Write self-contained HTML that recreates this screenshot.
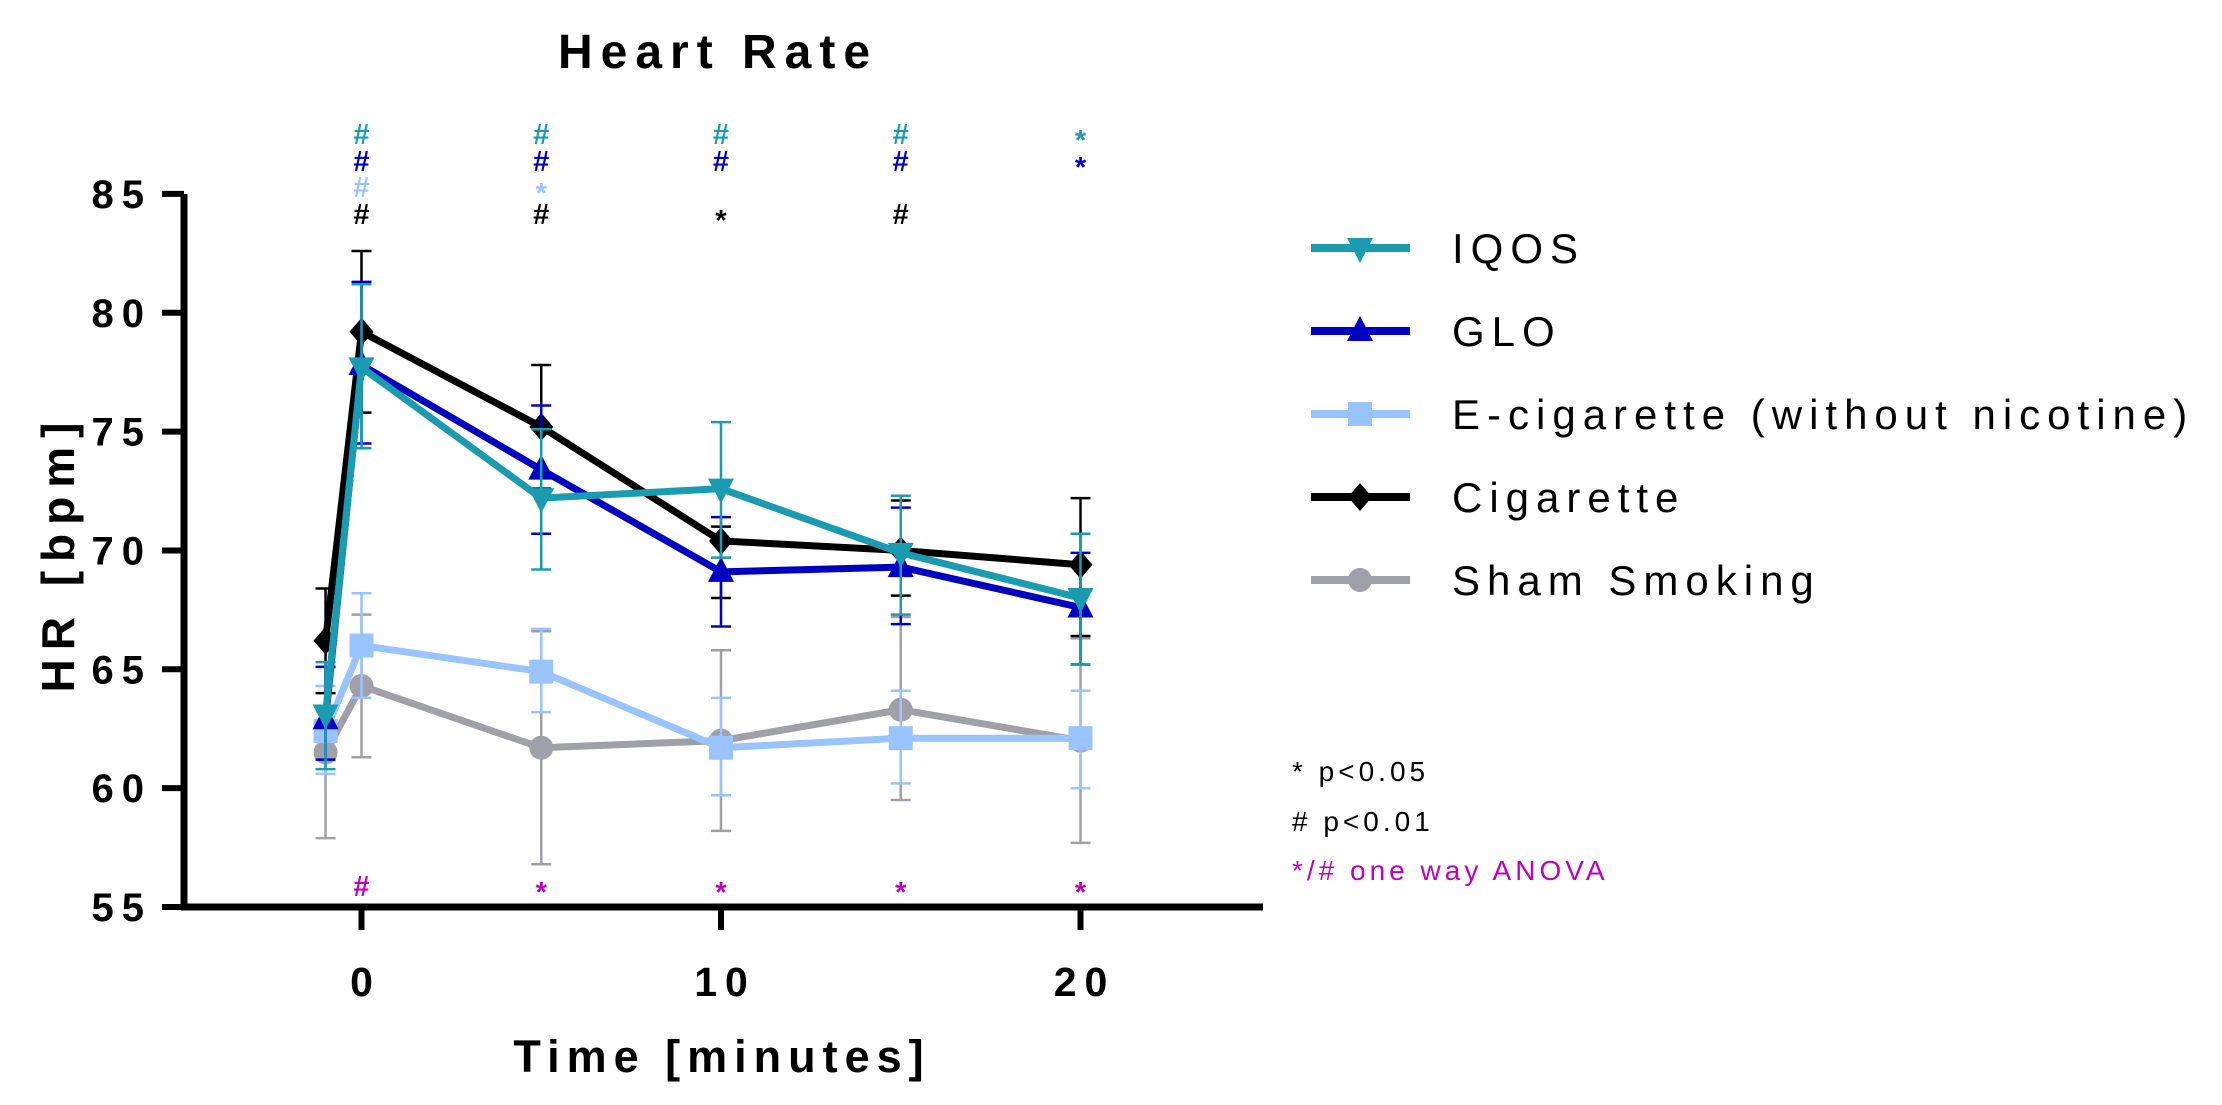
<!DOCTYPE html>
<html><head><meta charset="utf-8"><style>
html,body{margin:0;padding:0;background:#fff;}
svg{display:block;font-family:"Liberation Sans",Arial,sans-serif;}
</style></head><body>
<svg id="s" width="2222" height="1105" viewBox="0 0 2222 1105" xmlns="http://www.w3.org/2000/svg">
<rect width="2222" height="1105" fill="#fff"/>
<text x="718" y="68" font-size="48" font-weight="bold" text-anchor="middle" letter-spacing="8">Heart Rate</text>
<text transform="translate(74,553) rotate(-90)" font-size="46" font-weight="bold" text-anchor="middle" letter-spacing="9">HR  [bpm]</text>
<text x="722" y="1072" font-size="45" font-weight="bold" text-anchor="middle" letter-spacing="7">Time [minutes]</text>
<g id="ax"></g>
<g id="data"></g>
<g id="ann" font-size="29" font-weight="bold" text-anchor="middle"></g>
<g id="leg" font-size="42" letter-spacing="7"></g>
<g font-size="28" letter-spacing="4">
<text x="1292" y="781">* p&lt;0.05</text>
<text x="1292" y="831"># p&lt;0.01</text>
<text x="1292" y="880" fill="#c000c0">*/# one way ANOVA</text>
</g>
</svg>
<script>
const NS="http://www.w3.org/2000/svg";
function el(p,t,a,txt){const e=document.createElementNS(NS,t);for(const k in a)e.setAttribute(k,a[k]);if(txt!==undefined)e.textContent=txt;p.appendChild(e);return e;}
const px=t=>361.5+35.95*t, py=v=>907-(v-55)*23.77;
const ax=document.getElementById('ax');
el(ax,'line',{x1:184,y1:194,x2:184,y2:910,stroke:'#000','stroke-width':7});
el(ax,'line',{x1:181,y1:907,x2:1263,y2:907,stroke:'#000','stroke-width':7});
for(let v=55;v<=85;v+=5){const y=py(v);el(ax,'line',{x1:162,y1:y,x2:184,y2:y,stroke:'#000','stroke-width':6});
el(ax,'text',{x:152,y:y+14,'font-size':40,'font-weight':'bold','text-anchor':'end','letter-spacing':8},String(v));}
for(const t of [0,10,20]){const x=px(t);el(ax,'line',{x1:x,y1:907,x2:x,y2:930,stroke:'#000','stroke-width':6});
el(ax,'text',{x:x+4,y:996,'font-size':41,'font-weight':'bold','text-anchor':'middle','letter-spacing':8},String(t));}
const T=[-1,0,5,10,15,20];
const S=[
{c:'#a0a0a8',m:'circle',v:[61.5,64.3,61.7,62.0,63.3,62.0],e:[[57.9,65.1],[61.3,67.3],[56.8,66.6],[58.2,65.8],[59.5,67.2],[57.7,66.3]]},
{c:'#99c4ff',m:'square',v:[62.4,66.0,64.9,61.7,62.1,62.1],e:[[60.6,64.3],[63.8,68.2],[63.2,66.7],[59.7,63.8],[60.2,64.1],[60.0,64.1]]},
{c:'#000000',m:'diamond',v:[66.2,79.2,75.2,70.4,70.0,69.4],e:[[64.0,68.4],[75.8,82.6],[72.6,77.8],[68.0,71.0],[68.1,72.1],[66.4,72.2]]},
{c:'#0000c0',m:'up',v:[62.9,77.8,73.4,69.1,69.3,67.6],e:[[61.2,65.1],[74.5,81.3],[70.7,76.1],[66.8,71.4],[66.9,71.8],[65.2,69.9]]},
{c:'#1a9bb0',m:'down',v:[63.1,77.7,72.2,72.6,69.9,68.0],e:[[60.8,65.3],[74.3,81.2],[69.2,75.1],[69.7,75.4],[67.3,72.3],[65.2,70.7]]}];
const D=document.getElementById('data');
function marker(g,m,x,y,c,r){
 if(m==='circle')el(g,'circle',{cx:x,cy:y,r:r,fill:c});
 else if(m==='square')el(g,'rect',{x:x-r,y:y-r,width:2*r,height:2*r,fill:c});
 else if(m==='diamond')el(g,'polygon',{points:`${x},${y-r-2} ${x+r},${y} ${x},${y+r+2} ${x-r},${y}`,fill:c});
 else if(m==='up')el(g,'polygon',{points:`${x},${y-r-3} ${x+r+1},${y+r-2} ${x-r-1},${y+r-2}`,fill:c});
 else el(g,'polygon',{points:`${x},${y+r+3} ${x+r+1},${y-r+2} ${x-r-1},${y-r+2}`,fill:c});
}
for(const s of S){const g=el(D,'g',{});
 T.forEach((t,i)=>{const x=px(t),[lo,hi]=s.e[i];
  el(g,'line',{x1:x,y1:py(lo),x2:x,y2:py(hi),stroke:s.c,'stroke-width':2.5});
  for(const v of [lo,hi])el(g,'line',{x1:x-10,y1:py(v),x2:x+10,y2:py(v),stroke:s.c,'stroke-width':2.5});});
 el(g,'polyline',{points:T.map((t,i)=>px(t)+','+py(s.v[i])).join(' '),fill:'none',stroke:s.c,'stroke-width':7,'stroke-linejoin':'round'});
 T.forEach((t,i)=>marker(g,s.m,px(t),py(s.v[i]),s.c,12));
}
const A=document.getElementById('ann');
const rows=[[144,'#1a9bb0',['#','#','#','#','*']],[171,'#0000c0',['#','#','#','#','*']],[197,'#99c4ff',['#','*','','','']],[224,'#000',['#','#','*','#','']],[896,'#c000c0',['#','*','*','*','*']]];
for(const [y,c,a] of rows)[0,5,10,15,20].forEach((t,i)=>{if(a[i])el(A,'text',{x:px(t),y:y+(a[i]==='*'?6:0),fill:c},a[i]);});
const L=document.getElementById('leg');
const LE=[['IQOS','#1a9bb0','down'],['GLO','#0000c0','up'],['E-cigarette (without nicotine)','#99c4ff','square'],['Cigarette','#000','diamond'],['Sham Smoking','#a0a0a8','circle']];
LE.forEach(([n,c,m],i)=>{const y=248+i*83;
 el(L,'line',{x1:1311,y1:y,x2:1410,y2:y,stroke:c,'stroke-width':8});
 marker(L,m,1360,y,c,12);
 el(L,'text',{x:1452,y:y+15},n);});
</script>
</body></html>
